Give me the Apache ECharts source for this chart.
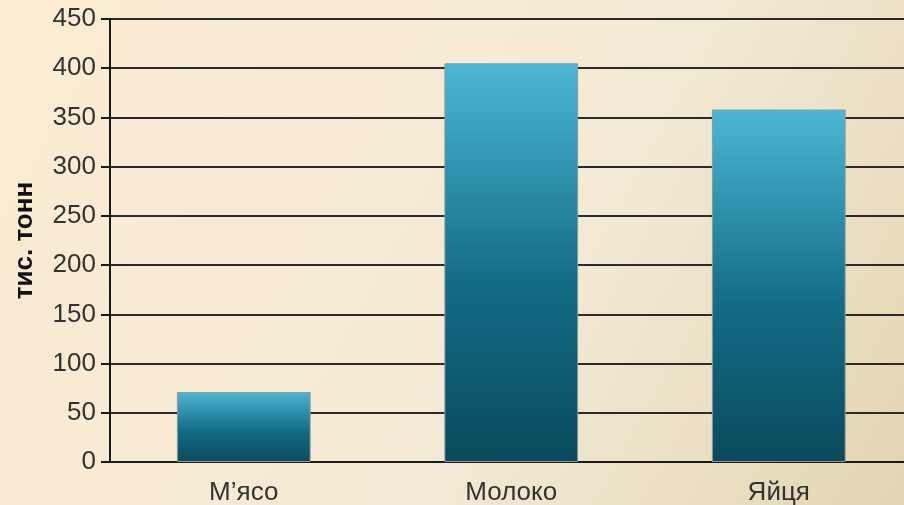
<!DOCTYPE html>
<html><head><meta charset="utf-8">
<script src="https://cdn.jsdelivr.net/npm/echarts@6/dist/echarts.min.js"></script>
<style>html,body{margin:0;padding:0;}#c{width:904px;height:505px;}</style>
</head><body><div id="c"></div>
<script>
var categories = ['М’ясо', 'Молоко', 'Яйця'];
var values = [71, 405, 358];
var yTicks = [0, 50, 100, 150, 200, 250, 300, 350, 400, 450];
var yTitle = 'тис. тонн';

var chart = echarts.init(document.getElementById('c'));
chart.setOption({
  backgroundColor: new echarts.graphic.LinearGradient(0, 0, 1, 1, [
    {offset: 0, color: '#fcecd3'},
    {offset: 0.6, color: '#f3ead5'},
    {offset: 1, color: '#e2d5b3'}
  ]),
  animation: false,
  grid: {left: 110, width: 802.5, top: 19, height: 443, containLabel: false, outerBoundsMode: 'none'},
  xAxis: {
    type: 'category', data: categories,
    axisLine: {lineStyle: {color: '#1a1a1a', width: 2}},
    axisTick: {show: false},
    axisLabel: {color: '#333', fontSize: 26, fontFamily: 'Liberation Sans, Arial, sans-serif', margin: 18}
  },
  yAxis: {
    type: 'value', min: yTicks[0], max: yTicks[yTicks.length - 1], interval: 50,
    name: yTitle, nameLocation: 'middle', nameGap: 72, nameRotate: 90,
    nameTextStyle: {color: '#111', fontSize: 26, fontWeight: 'bold', fontFamily: 'Liberation Sans, Arial, sans-serif'},
    axisLine: {show: true, lineStyle: {color: '#1a1a1a', width: 2}},
    axisTick: {show: true, length: 9, lineStyle: {color: '#1a1a1a', width: 2}},
    axisLabel: {color: '#333', fontSize: 26, fontFamily: 'Liberation Sans, Arial, sans-serif', margin: 14},
    splitLine: {show: true, lineStyle: {color: '#2a2a2a', width: 2}}
  },
  series: [{
    type: 'bar', data: values, barWidth: '50%',
    itemStyle: {
      borderColor: '#8a9a9a', borderWidth: 1,
      color: new echarts.graphic.LinearGradient(0, 0, 0, 1, [
        {offset: 0, color: '#4cb7d4'},
        {offset: 0.55, color: '#136c86'},
        {offset: 1, color: '#0a4a5c'}
      ])
    }
  }]
});
</script></body></html>
